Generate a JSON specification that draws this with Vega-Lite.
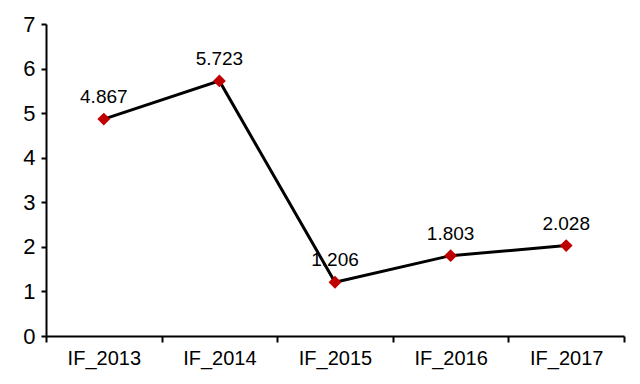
{
  "$schema": "https://vega.github.io/schema/vega-lite/v6.json",
  "width": 578,
  "height": 312,
  "autosize": {"type": "none"},
  "padding": {"left": 46, "top": 24, "right": 16, "bottom": 48},
  "background": "white",
  "config": {
    "view": {"stroke": null},
    "font": "Liberation Sans"
  },
  "data": {
    "values": [
      {"cat": "IF_2013", "v": 4.867},
      {"cat": "IF_2014", "v": 5.723},
      {"cat": "IF_2015", "v": 1.206},
      {"cat": "IF_2016", "v": 1.803},
      {"cat": "IF_2017", "v": 2.028}
    ]
  },
  "encoding": {
    "x": {
      "field": "cat",
      "type": "nominal",
      "sort": null,
      "scale": {"paddingInner": 0, "paddingOuter": 0},
      "axis": {
        "title": null,
        "labelAngle": 0,
        "tickBand": "extent",
        "labelFontSize": 20,
        "labelColor": "#000",
        "labelPadding": 6,
        "labelOverlap": false,
        "domainColor": "#000",
        "domainWidth": 2,
        "tickColor": "#000",
        "tickWidth": 2,
        "tickSize": 6
      }
    },
    "y": {
      "field": "v",
      "type": "quantitative",
      "scale": {"domain": [0, 7], "nice": false},
      "axis": {
        "title": null,
        "grid": false,
        "ticks": true,
        "values": [0, 1, 2, 3, 4, 5, 6, 7],
        "labelOverlap": false,
        "labelFontSize": 22,
        "labelColor": "#000",
        "labelPadding": 6,
        "domainColor": "#000",
        "domainWidth": 2,
        "tickColor": "#000",
        "tickWidth": 2,
        "tickSize": 5
      }
    }
  },
  "layer": [
    {"mark": {"type": "line", "color": "#000", "strokeWidth": 3}},
    {"mark": {"type": "point", "shape": "diamond", "filled": true, "color": "#C00000", "size": 165, "opacity": 1}},
    {"mark": {"type": "text", "dy": -22, "fontSize": 19, "color": "#000"}, "encoding": {"text": {"field": "v", "type": "quantitative", "format": ".3f"}}}
  ]
}
